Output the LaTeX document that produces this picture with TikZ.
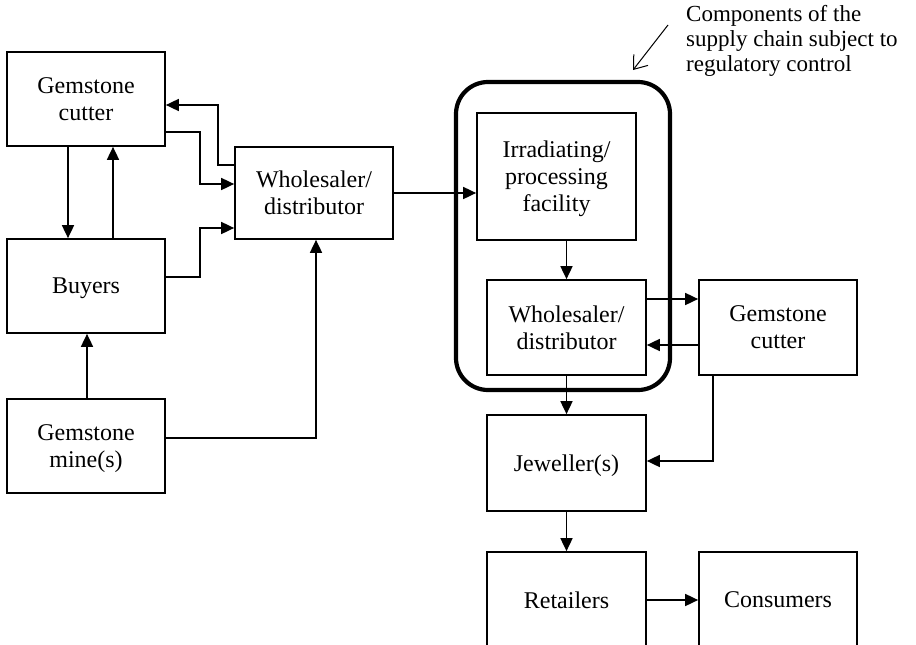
\documentclass[tikz,border=0pt]{standalone}
\usepackage{fontspec}
\setmainfont{Liberation Serif}
\usetikzlibrary{arrows.meta}
\begin{document}
\begin{tikzpicture}[x=1pt,y=-1pt,
  box/.style={draw, line width=1.7pt, minimum width=158pt, minimum height=94pt, align=center, inner sep=2pt, text depth=-6pt, font=\fontsize{24}{27}\selectfont},
  conn/.style={line width=1.7pt},
  arr/.style={conn, -{Triangle[length=13pt,width=12pt]}},
  region/.style={draw, line width=4.2pt, rounded corners=32pt, minimum width=214pt, minimum height=308pt},
  note/.style={align=left, inner sep=0pt, anchor=north west, font=\fontsize{23}{25}\selectfont}]
\clip (0,0) rectangle (916,645);
% region
\node[region] (reg) at (563,236) {};
% boxes
\node[box] (cutL) at (86,99) {Gemstone\\cutter};
\node[box, minimum height=92pt] (whL) at (314,193) {Wholesaler/\\distributor};
\node[box] (buy) at (86,286) {Buyers};
\node[box] (mine) at (86,446) {Gemstone\\mine(s)};
\node[box, minimum width=159pt, minimum height=127pt] (irr) at (556.5,176.5) {Irradiating/\\processing\\facility};
\node[box, minimum width=159pt, minimum height=95pt] (whR) at (566.5,327.5) {Wholesaler/\\distributor};
\node[box, minimum height=95pt] (cutR) at (778,327.5) {Gemstone\\cutter};
\node[box, minimum width=159pt, minimum height=96pt] (jew) at (566.5,463) {Jeweller(s)};
\node[box, minimum width=159pt, minimum height=96pt] (ret) at (566.5,600) {Retailers};
\node[box, minimum height=96pt] (cons) at (778,600) {Consumers};
% annotation
\node[note] (txt) at (686,5) {Components of the\\supply chain subject to\\regulatory control};
\coordinate (ta) at (668,25);
\coordinate (tb) at (633,70);
\draw[line width=1pt, -{Straight Barb[length=12pt,width=18pt]}] (ta) -- (tb);
% connectors left
\draw[arr] (whL.west |- 0,165) -- (218,165) -- (218,105) -- (cutL.east |- 0,105);
\draw[arr] (cutL.east |- 0,132) -- (200,132) -- (200,184) -- (whL.west |- 0,184);
\draw[arr] (buy.east |- 0,277) -- (200,277) -- (200,228) -- (whL.west |- 0,228);
\draw[arr] (cutL.south -| 68,0) -- (buy.north -| 68,0);
\draw[arr] (buy.north -| 113,0) -- (cutL.south -| 113,0);
\draw[arr] (mine.north -| 87,0) -- (buy.south -| 87,0);
\draw[arr] (mine.east |- 0,438) -- (316,438) -- (whL.south -| 316,0);
% connectors right
\draw[arr] (whL.east) -- (irr.west |- whL.east);
\draw[arr] (whR.north |- irr.south) -- (whR.north);
\draw[arr] (whR.east |- 0,299) -- (cutR.west |- 0,299);
\draw[arr] (cutR.west |- 0,345) -- (whR.east |- 0,345);
\draw[arr] (whR.south) -- (jew.north);
\draw[arr] (cutR.south -| 713,0) -- (713,461) -- (jew.east |- 0,461);
\draw[arr] (jew.south) -- (ret.north);
\draw[arr] (ret.east) -- (cons.west);
\end{tikzpicture}
\end{document}
